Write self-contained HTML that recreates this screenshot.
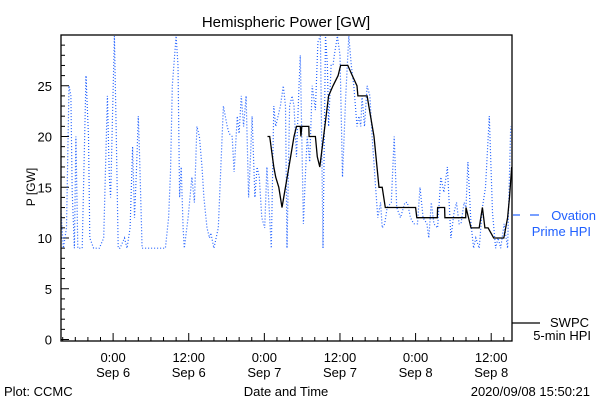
<!DOCTYPE html>
<html><head><meta charset="utf-8"><style>
html,body{margin:0;padding:0;background:#fff;}
svg{display:block;font-family:"Liberation Sans",sans-serif;}
</style></head><body>
<svg id="chart" width="600" height="400" viewBox="0 0 600 400" xmlns="http://www.w3.org/2000/svg">
<rect x="0" y="0" width="600" height="400" fill="#fff"/>
<text x="286" y="27" font-size="15" text-anchor="middle" fill="#000">Hemispheric Power [GW]</text>
<text x="0" y="0" font-size="12" text-anchor="middle" transform="translate(35,187) rotate(-90)" fill="#000">P [GW]</text>
<text x="286" y="396" font-size="13" text-anchor="middle" fill="#000">Date and Time</text>
<text x="4" y="396" font-size="13" fill="#000">Plot: CCMC</text>
<text x="590" y="396" font-size="13" text-anchor="end" fill="#000">2020/09/08 15:50:21</text>
<g id="axes"></g>
<g id="series"></g>
<rect x="61" y="35" width="451" height="306" fill="none" stroke="#000" stroke-width="1.3"/>
<g>
<line x1="513" y1="215" x2="520" y2="215" stroke="#2060ff" stroke-width="1.2"/>
<line x1="530" y1="215" x2="539" y2="215" stroke="#2060ff" stroke-width="1.2"/>
<text x="596" y="220" font-size="13" text-anchor="end" fill="#2060ff">Ovation</text>
<text x="591" y="236" font-size="13" text-anchor="end" fill="#2060ff">Prime HPI</text>
<line x1="512" y1="323" x2="540" y2="323" stroke="#000" stroke-width="1.2"/>
<text x="589" y="327" font-size="13" text-anchor="end" fill="#000">SWPC</text>
<text x="591" y="340" font-size="13" text-anchor="end" fill="#000">5-min HPI</text>
</g>
</svg>
<script>
// hours since Sep 6 00:00
const ovationTimes = [-8.3,-7.9,-7.4,-7.0,-6.7,-6.5,-6.15,-5.9,-5.6,-4.9,-4.3,-3.9,-3.7,-3.1,-2.2,-1.5,-0.9,-0.6,-0.4,-0.1,0.2,0.5,0.8,1.1,1.8,2.2,2.7,3.1,3.4,3.7,4.0,4.2,4.6,8.3,8.8,9.1,9.4,10.0,10.3,10.55,10.8,11.1,11.3,11.9,12.5,12.9,13.3,13.7,14.1,14.4,14.9,15.3,15.5,16.0,16.7,17.5,18.1,18.4,18.9,19.2,19.7,20.0,20.35,20.7,21.1,21.5,21.8,22.05,22.5,22.85,23.2,23.6,24.05,24.4,24.8,25.1,25.5,25.8,26.55,27.0,27.35,27.6,28.0,28.4,28.7,29.1,29.5,29.7,30.2,30.5,30.8,31.2,31.6,32.1,32.5,32.9,33.3,33.7,34.0,34.2,34.6,34.9,35.1,35.6,36.0,36.4,36.9,37.4,37.8,38.2,38.7,39.0,39.3,39.5,39.9,40.3,40.75,41.1,41.65,42.0,42.45,42.7,43.1,43.5,44.15,44.6,45.0,45.6,46.3,46.7,47.2,47.7,48.3,48.7,49.2,49.8,50.1,50.5,50.9,51.5,52.0,52.5,53.05,53.6,54.1,54.5,54.9,55.2,55.7,56.0,56.3,56.8,57.2,57.55,58.1,58.6,59.1,59.7,60.2,60.7,61.1,61.5,62.05,62.6,63.1];
const ovationValues = [13,9,11,25,24,14.5,9,20,9,9,26,20,10,9,9,10,24,16,14,22,30,20,9,9,10,9,11,19,12,16.5,22,18,9,9,12,16.5,25,30,27,14,17,11,9,12,16,13.5,21,20,17,14,11,10,10.5,9,11,23,21,20.3,20,16.5,22,20.3,24,21,24,14,18,22,14,17,16,12,11,17,12.5,9,23,21,23,25,23,9,23,24,23,18,25,28,11.4,16,20,17.5,25,22.6,29.3,30,9,30,27,21,27,27,28,30,28,16,23.7,30,27,25,21,22,21,24,21,25,24,20,15,12,13.5,11,11.4,13,13.5,20,13,12,13.5,13.5,12,11.4,11.4,15,12,11.4,10,13.5,11.4,11,16,14.5,17,10,12.5,13.5,11.4,11.4,13.5,13,17.5,11.4,9,10,9,13,15,22,12.5,9,10,9,11.4,9,21,24,23.4,22.6,23,20];
const swpcTimes = [24.5,24.85,25.5,25.8,26.3,26.8,27.9,28.7,29.1,29.7,29.8,29.95,31.05,31.1,32.1,32.4,32.8,33.4,34.2,34.9,35.7,36.1,37.25,37.95,38.7,38.85,40.3,41.4,42.2,42.7,43.2,48.0,48.2,51.45,51.5,52.6,52.65,55.95,56.0,56.8,58.1,58.6,59.0,59.5,60.4,62.0,62.6,62.9,63.25];
const swpcValues = [20,20,17,16,15,13,17,20,21,21,20,21,21,20,20,18,17,20,24,25,26,27,27,26,25,24,24,20,15,15,13,13,12,12,13,13,12,12,13,11,11,13,11,11,10,10,12,14,17];
const yTickLabels = ["0","5","10","15","20","25"];
const xTickHours = [0,12,24,36,48,60];
const xTickTimes = ["0:00","12:00","0:00","12:00","0:00","12:00"];
const xTickDates = ["Sep 6","Sep 6","Sep 7","Sep 7","Sep 8","Sep 8"];

const NS = "http://www.w3.org/2000/svg";
const L=61,R=512,T=35,B=341;
const tMin=-8.27, tMax=63.3, vMin=0, vMax=30;
function xs(t){return L+(t-tMin)/(tMax-tMin)*(R-L);}
function ys(v){return 339.5-(v-vMin)/(vMax-vMin)*(339.5-35);}
function mk(tag,attrs,parent){const e=document.createElementNS(NS,tag);for(const k in attrs)e.setAttribute(k,attrs[k]);parent.appendChild(e);return e;}
const axes=document.getElementById('axes');
for(let v=0;v<=29;v++){
  const major=v%5===0;
  const t=mk('line',{x1:L,x2:L+(major?8:4),y1:ys(v),y2:ys(v),stroke:'#000','stroke-width':1},axes);
  
  
}
yTickLabels.forEach(s=>{
  const tx=mk('text',{x:L-9,y:ys(+s)+5,'font-size':13,'text-anchor':'end',fill:'#000'},axes);
  tx.textContent=s;
  
  
});
for(let h=-8;h<=62;h+=2){
  const major=h%12===0;
  const t=mk('line',{x1:xs(h),x2:xs(h),y1:B,y2:B-(major?8:4),stroke:'#000','stroke-width':1},axes);
  
  
}
xTickHours.forEach((h,i)=>{
  const a=mk('text',{x:xs(h),y:362,'font-size':13,'text-anchor':'middle',fill:'#000'},axes);
  a.textContent=xTickTimes[i];
  
  
  const b=mk('text',{x:xs(h),y:377,'font-size':13,'text-anchor':'middle',fill:'#000'},axes);
  b.textContent=xTickDates[i];
  
  
});
const series=document.getElementById('series');
const clip=mk('clipPath',{id:'pc'},series);
mk('rect',{x:L,y:T,width:R-L,height:B-T},clip);
function pts(ts,vs){return ts.map((t,i)=>xs(t).toFixed(1)+','+ys(Math.min(vs[i],29.9)).toFixed(1)).join(' ');}
const ov=mk('polyline',{points:pts(ovationTimes,ovationValues),fill:'none',stroke:'#2060ff','stroke-width':1.2,'stroke-dasharray':'1 2','clip-path':'url(#pc)'},series);


const sw=mk('polyline',{points:pts(swpcTimes,swpcValues),fill:'none',stroke:'#000','stroke-width':1.3,'clip-path':'url(#pc)'},series);


</script>
</body></html>
